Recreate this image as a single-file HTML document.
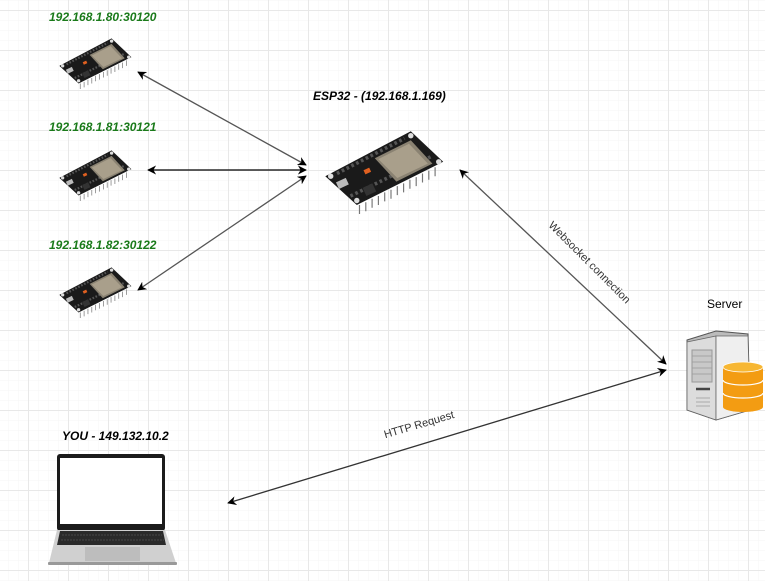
<!DOCTYPE html>
<html><head><meta charset="utf-8"><style>
html,body{margin:0;padding:0;background:#fff}
svg{display:block}
text{font-family:"Liberation Sans",sans-serif}
</style></head><body>
<svg width="765" height="581" viewBox="0 0 765 581" xmlns="http://www.w3.org/2000/svg">
<defs>
<pattern id="minor" width="10" height="10" patternUnits="userSpaceOnUse" x="8" y="0">
<path d="M10 0H0V10" fill="none" stroke="#f5f5f5" stroke-width="1"/>
</pattern>
<pattern id="major" width="40" height="40" patternUnits="userSpaceOnUse" x="28" y="10">
<path d="M40 0.5H0.5V40" fill="none" stroke="#e8e8e8" stroke-width="1"/>
</pattern>
<marker id="ah" viewBox="0 0 10 10" refX="9" refY="5" markerWidth="9" markerHeight="9" orient="auto-start-reverse" markerUnits="userSpaceOnUse">
<path d="M0 0L10 5L0 10L3 5z" fill="#000"/>
</marker>
<g id="board">
<path d="M17 58L112 8L148 42L52 90Z" fill="#1a1a1a"/>
<g stroke="#777" stroke-width="1.3">
<path d="M55 90v10M62 87v10M69 83v10M76 80v10M83 76v10M90 73v10M97 69v10M104 66v10M111 62v10M118 59v10M125 55v10M132 52v10M139 48v10"/>
</g>
<path d="M30 55L105 16" stroke="#555" stroke-width="4" stroke-dasharray="3 3"/>
<path d="M45 80L135 36" stroke="#555" stroke-width="4" stroke-dasharray="3 3"/>
<path d="M72 38L112 18L136 44L96 64Z" fill="#8a8272"/>
<path d="M76 39L110 22L131 44L97 60Z" fill="#a99f8b"/>
<rect x="60" y="50" width="7" height="5" fill="#e06020" transform="rotate(-25 63 52)"/>
<circle cx="23" cy="58" r="3" fill="#ddd"/><circle cx="112" cy="13" r="3" fill="#ddd"/>
<circle cx="143" cy="42" r="3" fill="#ddd"/><circle cx="52" cy="85" r="3" fill="#ddd"/>
<rect x="30" y="62" width="12" height="8" fill="#bbb" transform="rotate(-25 36 66)"/>
<rect x="60" y="68" width="12" height="10" fill="#333" transform="rotate(-25 66 73)"/>
</g>
</defs>
<rect width="765" height="581" fill="url(#minor)"/>
<rect width="765" height="581" fill="url(#major)"/>

<use href="#board" transform="translate(310,124) scale(0.9)"/>
<use href="#board" transform="translate(50,34) scale(0.55)"/>
<use href="#board" transform="translate(50,146) scale(0.55)"/>
<use href="#board" transform="translate(50,263) scale(0.55)"/>

<g font-weight="bold" font-style="italic" font-size="12" fill="#1a7a1a">
<text x="49" y="21">192.168.1.80:30120</text>
<text x="49" y="131">192.168.1.81:30121</text>
<text x="49" y="249">192.168.1.82:30122</text>
</g>
<text x="313" y="100" font-weight="bold" font-style="italic" font-size="12" fill="#000">ESP32 - (192.168.1.169)</text>
<text x="62" y="440" font-weight="bold" font-style="italic" font-size="12" fill="#000">YOU - 149.132.10.2</text>
<text x="707" y="308" font-size="12" fill="#000">Server</text>

<g stroke-width="1.3" fill="none">
<line x1="138" y1="72" x2="306" y2="165" stroke="#555" marker-start="url(#ah)" marker-end="url(#ah)"/>
<line x1="148" y1="170" x2="306" y2="170" stroke="#000" marker-start="url(#ah)" marker-end="url(#ah)"/>
<line x1="138" y1="290" x2="306" y2="176" stroke="#555" marker-start="url(#ah)" marker-end="url(#ah)"/>
<line x1="460" y1="170" x2="666" y2="364" stroke="#555" marker-start="url(#ah)" marker-end="url(#ah)"/>
<line x1="228" y1="503" x2="666" y2="370" stroke="#333" marker-start="url(#ah)" marker-end="url(#ah)"/>
</g>
<text x="587" y="265" font-size="11" fill="#333" text-anchor="middle" transform="rotate(45 587 265)">Websocket connection</text>
<text x="420" y="428" font-size="11" fill="#333" text-anchor="middle" transform="rotate(-16.5 420 428)">HTTP Request</text>

<!-- server -->
<path d="M687 340L716 331L748 334L750 410L716 420L687 410Z" fill="#bbb" stroke="#555" stroke-width="1"/>
<path d="M687 342L716 336L716 420L687 410Z" fill="#dcdcdc" stroke="#666" stroke-width="0.8"/>
<path d="M716 336L748 336L750 410L716 420Z" fill="#efefef" stroke="#666" stroke-width="0.8"/>
<rect x="692" y="350" width="20" height="32" fill="#c8c8c8" stroke="#999"/>
<g stroke="#999" stroke-width="0.8">
<path d="M692 356h20M692 362h20M692 368h20M692 374h20"/>
</g>
<path d="M696 389h14" stroke="#444" stroke-width="2.5"/>
<path d="M696 398h14M696 402h14M696 406h14" stroke="#aaa"/>
<path d="M723 367v40a20 5 0 0 0 40 0v-40z" fill="#f39c12"/>
<ellipse cx="743" cy="367" rx="20" ry="5" fill="#f7b733" stroke="#fff" stroke-width="0.8"/>
<path d="M723 380a20 5 0 0 0 40 0M723 393a20 5 0 0 0 40 0" fill="none" stroke="#fff" stroke-width="1.2"/>

<!-- laptop -->
<rect x="57" y="454" width="108" height="77" rx="3" fill="#1b1b1b"/>
<rect x="60" y="458" width="102" height="66" fill="#fff"/>
<path d="M57 530L49 563H176L165 530Z" fill="#d0d0d0"/>
<path d="M60 531L57 545H166L163 531Z" fill="#2a2a2a"/>
<path d="M62 535H162M61 540H164" stroke="#666" stroke-width="0.6" stroke-dasharray="2 1"/>
<rect x="85" y="547" width="55" height="14" fill="#bdbdbd"/>
<rect x="48" y="562" width="129" height="3" rx="1" fill="#999"/>
</svg>
</body></html>
